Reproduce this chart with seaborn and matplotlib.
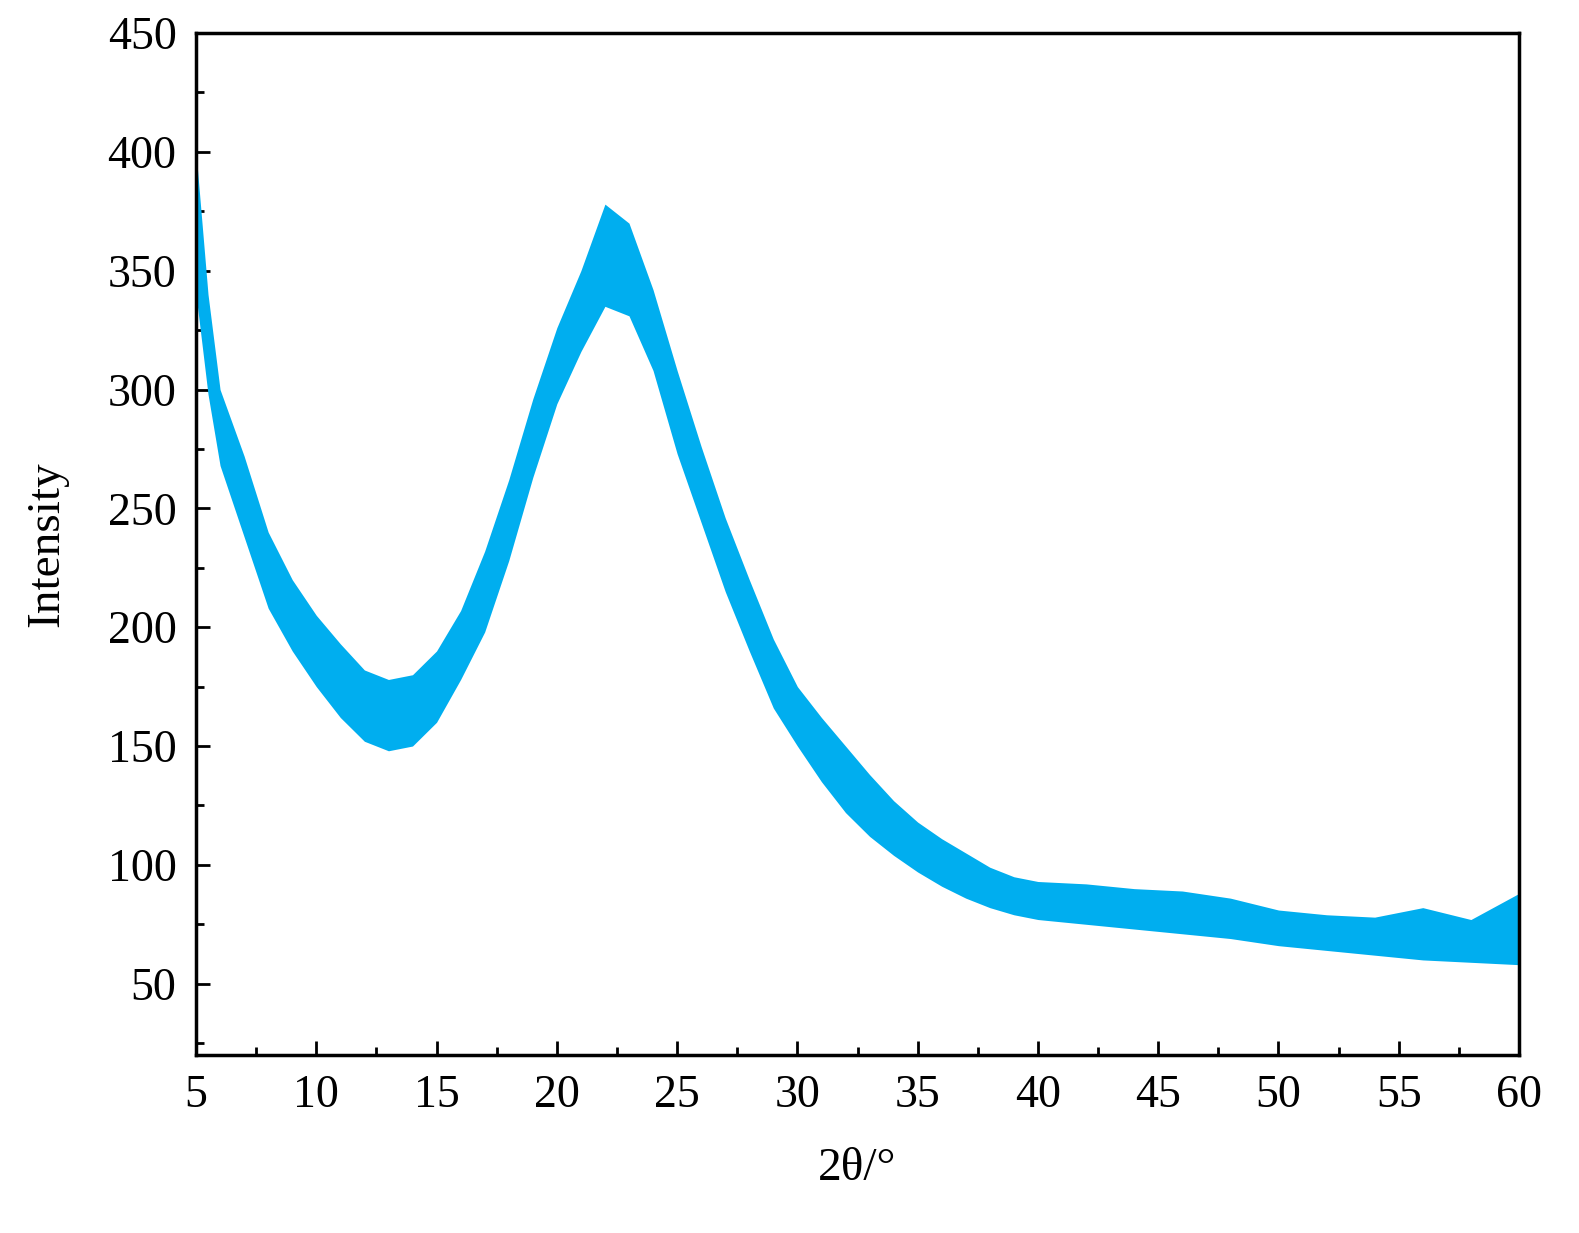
import numpy as np
import pandas as pd
import matplotlib
matplotlib.use("Agg")
import matplotlib.pyplot as plt
import seaborn as sns
from matplotlib.ticker import MultipleLocator

# values: centre of the noisy trace and its upper / lower envelope
two_theta = [5, 5.5, 6, 7, 8, 9, 10, 11, 12, 13, 14, 15, 16, 17, 18, 19, 20, 21, 22, 23,
             24, 25, 26, 27, 28, 29, 30, 31, 32, 33, 34, 35, 36, 37, 38, 39, 40, 42, 44,
             46, 48, 50, 52, 54, 56, 58, 60]
intensity = [370, 320, 285, 255, 225, 205, 190, 177, 167, 163, 165, 175, 192, 215, 245, 280,
             310, 335, 355, 350, 325, 290, 260, 230, 205, 180, 162, 148, 135, 125, 115, 107,
             100, 95, 90, 87, 85, 83, 82, 80, 78, 74, 72, 70, 69, 68, 68]
upper = [400, 340, 300, 272, 240, 220, 205, 193, 182, 178, 180, 190, 207, 232, 262, 296,
         326, 350, 378, 370, 342, 308, 276, 246, 220, 195, 175, 162, 150, 138, 127, 118,
         111, 105, 99, 95, 93, 92, 90, 89, 86, 81, 79, 78, 82, 77, 88]
lower = [340, 298, 268, 238, 208, 190, 175, 162, 152, 148, 150, 160, 178, 198, 228, 263,
         294, 316, 335, 331, 308, 273, 244, 215, 190, 166, 150, 135, 122, 112, 104, 97,
         91, 86, 82, 79, 77, 75, 73, 71, 69, 66, 64, 62, 60, 59, 58]

df = pd.DataFrame({"two_theta": two_theta, "intensity": intensity})
color = "#00AEEF"

sns.set_style("ticks")
plt.rcParams['font.family'] = ['Liberation Serif', 'DejaVu Serif']
plt.rcParams['text.color'] = 'black'
plt.rcParams['axes.labelcolor'] = 'black'
plt.rcParams['xtick.color'] = 'black'
plt.rcParams['ytick.color'] = 'black'
plt.rcParams['axes.edgecolor'] = 'black'

fig = plt.figure(figsize=(15.79, 12.33), dpi=100)
ax = fig.add_axes([196 / 1579, 1 - 1055 / 1233, (1519 - 196) / 1579, (1055 - 33) / 1233])
ax.fill_between(two_theta, lower, upper, color=color, linewidth=0)
sns.lineplot(data=df, x="two_theta", y="intensity", color=color, linewidth=2, ax=ax)

ax.set_xlim(5, 60)
ax.set_ylim(20, 450)
ax.xaxis.set_major_locator(MultipleLocator(5))
ax.xaxis.set_minor_locator(MultipleLocator(2.5))
ax.yaxis.set_major_locator(MultipleLocator(50))
ax.yaxis.set_minor_locator(MultipleLocator(25))
ax.tick_params(which='both', direction='in', width=2, labelsize=33, top=False, right=False)
ax.tick_params(which='major', length=10, pad=14)
ax.tick_params(which='minor', length=6)
for s in ax.spines.values():
    s.set_linewidth(2.5)
ax.set_xlabel("2θ/°", fontsize=34, labelpad=22)
ax.set_ylabel("Intensity", fontsize=34, labelpad=28)

fig.savefig("out.png", dpi=100)
